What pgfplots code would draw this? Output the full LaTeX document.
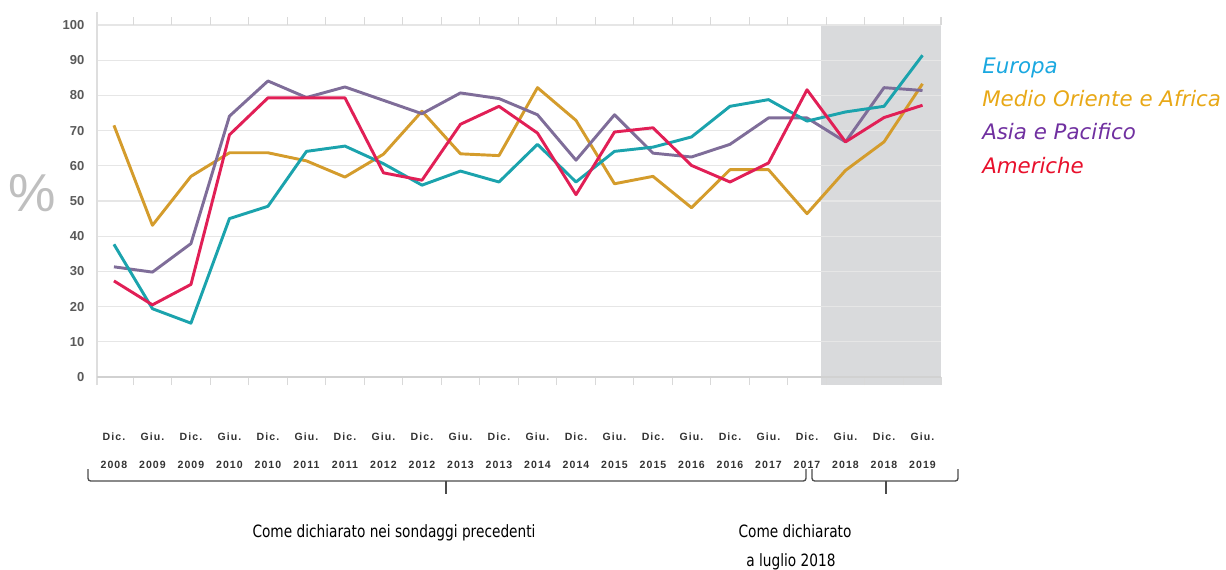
\documentclass[border=0pt]{standalone}
\usepackage{pgfplots}
\pgfplotsset{compat=1.18}
\usepackage{pgfplotstable}
\usepackage{fontspec}
\setmainfont{Liberation Sans}
\newfontfamily\legfont{DejaVu Sans}
\newfontfamily\notefont[FakeStretch=0.81]{DejaVu Sans}
\newfontfamily\tickfont[LetterSpace=10]{Liberation Sans}

\definecolor{cEU}{HTML}{1BA3AD}
\definecolor{cME}{HTML}{D49C2C}
\definecolor{cAP}{HTML}{7F6D99}
\definecolor{cAM}{HTML}{E11F56}
\definecolor{tEU}{HTML}{1AA8E0}
\definecolor{tME}{HTML}{E8A817}
\definecolor{tAP}{HTML}{7030A0}
\definecolor{tAM}{HTML}{E8102C}
\definecolor{shadec}{HTML}{D9DADC}
\definecolor{gridc}{HTML}{E6E6E6}

\pgfplotstableread{
x eu me ap am
0 37.7 71.5 31.3 27.3
1 19.4 43.1 29.8 20.5
2 15.3 57.0 37.9 26.3
3 45.0 63.7 74.1 68.8
4 48.5 63.7 84.1 79.3
5 64.1 61.4 79.4 79.3
6 65.6 56.8 82.4 79.3
7 60.6 63.3 78.6 58.0
8 54.5 75.5 74.8 55.9
9 58.5 63.4 80.7 71.8
10 55.4 62.9 79.1 76.9
11 66.1 82.2 74.5 69.3
12 55.4 72.9 61.6 51.8
13 64.1 54.9 74.5 69.6
14 65.3 57.0 63.6 70.8
15 68.2 48.1 62.5 60.1
16 76.9 58.9 66.1 55.4
17 78.8 58.9 73.6 60.8
18 72.7 46.4 73.6 81.6
19 75.3 58.7 66.8 66.8
20 76.9 66.8 82.2 73.7
21 91.4 83.3 81.4 77.2
}\data

\begin{document}
\begin{tikzpicture}
\begin{axis}[
  set layers,
  scale only axis,
  width=633pt, height=264pt,
  xmin=-0.44, xmax=21.48, ymin=0, ymax=100,
  clip=false,
  axis line style={draw=none},
  ytick={0,10,20,30,40,50,60,70,80,90,100},
  ymajorgrids,
  grid style={draw=gridc, line width=0.8pt},
  major tick length=0pt,
  /pgf/number format/assume math mode=true,
  yticklabel style={font=\bfseries\fontsize{9.75}{11}\selectfont, text=black!65, xshift=-6pt},
  xtick={0,1,2,3,4,5,6,7,8,9,10,11,12,13,14,15,16,17,18,19,20,21},
  xticklabels={{Dic.\\2008},{Giu.\\2009},{Dic.\\2009},{Giu.\\2010},{Dic.\\2010},{Giu.\\2011},{Dic.\\2011},{Giu.\\2012},{Dic.\\2012},{Giu.\\2013},{Dic.\\2013},{Giu.\\2014},{Dic.\\2014},{Giu.\\2015},{Dic.\\2015},{Giu.\\2016},{Dic.\\2016},{Giu.\\2017},{Dic.\\2017},{Giu.\\2018},{Dic.\\2018},{Giu.\\2019}},
  xticklabel style={font=\tickfont\bfseries\fontsize{7.9}{21}\selectfont, align=center, text=black!80, yshift=-38pt},
  extra x ticks={0.5,1.5,2.5,3.5,4.5,5.5,6.5,7.5,8.5,9.5,10.5,11.5,12.5,13.5,14.5,15.5,16.5,17.5,18.5,19.5,20.5,21.48},
  extra x tick labels={},
  extra x tick style={grid=none, tick align=outside, major tick length=6pt, major tick style={draw=black!15, line width=0.8pt}},
]
\begin{pgfonlayer}{axis background}
\fill[fill=shadec] (axis cs:18.37,-2.3) rectangle (axis cs:21.48,100);
\end{pgfonlayer}
\draw[draw=black!13, line width=1.1pt] (axis cs:-0.44,-2.3) -- (axis cs:-0.44,103.7);
\draw[draw=black!18, line width=1.5pt] (axis cs:-0.44,0) -- (axis cs:21.48,0);
\addplot[cME, line width=2.2pt, line join=round] table[x=x,y=me]{\data};
\addplot[cAP, line width=2.2pt, line join=round] table[x=x,y=ap]{\data};
\addplot[cEU, line width=2.2pt, line join=round] table[x=x,y=eu]{\data};
\addplot[cAM, line width=2.2pt, line join=round] table[x=x,y=am]{\data};
\end{axis}

\node[anchor=base west, inner sep=0, text=tEU, font=\legfont\itshape\fontsize{16}{19}\selectfont] at (663.75pt,228pt) {Europa};
\node[anchor=base west, inner sep=0, text=tME, font=\legfont\itshape\fontsize{16}{19}\selectfont] at (663.75pt,203.25pt) {Medio Oriente e Africa};
\node[anchor=base west, inner sep=0, text=tAP, font=\legfont\itshape\fontsize{16}{19}\selectfont] at (663.75pt,178.1pt) {Asia e Pacifico};
\node[anchor=base west, inner sep=0, text=tAM, font=\legfont\itshape\fontsize{16}{19}\selectfont] at (663.75pt,153pt) {Americhe};

\node[inner sep=0, text=black!25, font=\fontsize{40}{41}\selectfont] at (-48.75pt,138pt) {\%};

\draw[black!70, line width=1pt, rounded corners=2pt] (-6.75pt,-69pt) -- (-6.75pt,-78pt) -- (531.75pt,-78pt) -- (531.75pt,-69pt);
\draw[black!70, line width=1pt] (261.75pt,-78pt) -- (261.75pt,-87.75pt);
\draw[black!70, line width=1pt, rounded corners=2pt] (536.25pt,-69pt) -- (536.25pt,-78pt) -- (645.75pt,-78pt) -- (645.75pt,-69pt);
\draw[black!70, line width=1pt] (591.75pt,-78pt) -- (591.75pt,-87.75pt);

\node[anchor=base, inner sep=0, font=\notefont\fontsize{12.7}{15}\selectfont] at (222.75pt,-120pt) {Come dichiarato nei sondaggi precedenti};
\node[anchor=base, inner sep=0, font=\notefont\fontsize{12.7}{15}\selectfont] at (523.5pt,-120pt) {Come dichiarato};
\node[anchor=base, inner sep=0, font=\notefont\fontsize{12.7}{15}\selectfont] at (520.5pt,-141.75pt) {a luglio 2018};

\pgfresetboundingbox
\useasboundingbox (-72.75pt,-144pt) rectangle (846.75pt,282.75pt);
\end{tikzpicture}
\end{document}
